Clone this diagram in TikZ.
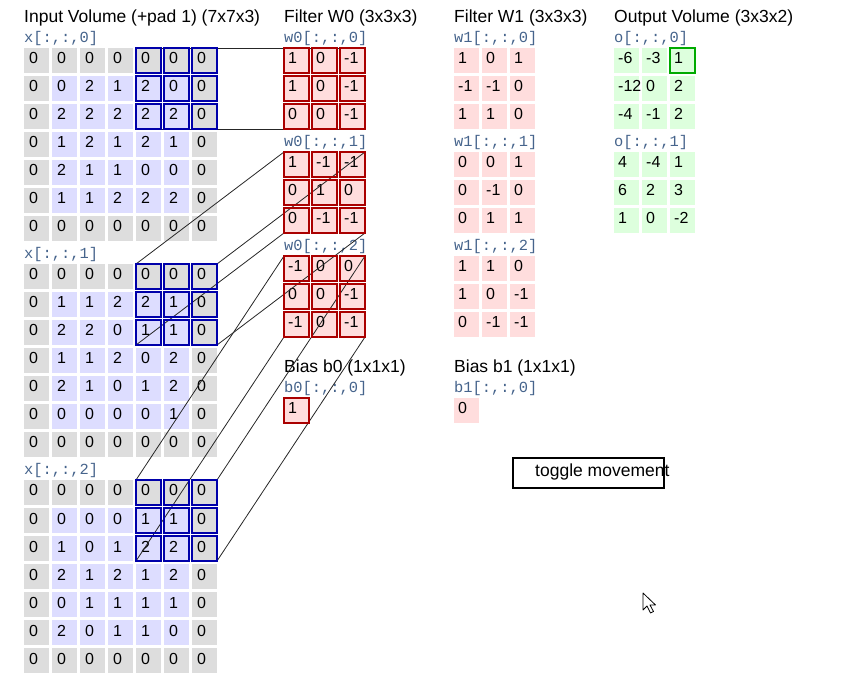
\documentclass[tikz,border=0pt]{standalone}
\usepackage{fontspec}
\setmainfont{Liberation Sans}
\setmonofont{Liberation Mono}
\definecolor{grau}{RGB}{221,221,221}
\definecolor{blau}{RGB}{221,221,255}
\definecolor{rot}{RGB}{255,221,221}
\definecolor{gruen}{RGB}{221,255,221}
\definecolor{blaurand}{RGB}{0,0,170}
\definecolor{rotrand}{RGB}{170,0,0}
\definecolor{gruenrand}{RGB}{0,170,0}
\definecolor{markenfarbe}{RGB}{70,100,140}
\tikzset{
    zahl/.style={anchor=base west, inner sep=0pt, font=\fontsize{16}{19}\selectfont},
    titel/.style={anchor=base west, inner sep=0pt, font=\fontsize{17.5}{20}\selectfont},
    marke/.style={anchor=base west, inner sep=0pt, text=markenfarbe, font=\fontsize{15.4}{18}\selectfont\ttfamily},
    rahmen/.style={line width=2pt},
    strahl/.style={line width=0.8pt, black!85}
}

\begin{document}
\begin{tikzpicture}[x=1pt,y=-1pt]
            \useasboundingbox (0,0) rectangle (841,684);
            % Ueberschriften
            \node[titel] (tin) at (24,23) {Input Volume (+pad 1) (7x7x3)};
            \node[titel] (tw0) at (284,23) {Filter W0 (3x3x3)};
            \node[titel] (tw1) at (454,23) {Filter W1 (3x3x3)};
            \node[titel] (tout) at (614,23) {Output Volume (3x3x2)};
            \node[titel] (tb0) at (284,373) {Bias b0 (1x1x1)};
            \node[titel] (tb1) at (454,373) {Bias b1 (1x1x1)};
            % Eingabe (3 Schichten zu je 7 Zeilen)
            \foreach \k in {0,1,2}
                \node[marke] (lx\k) at (24,43+216*\k) {x[:,:,\k]};
            \foreach \zeile [count=\n from 0] in {
                {0,0,0,0,0,0,0},{0,0,2,1,2,0,0},{0,2,2,2,2,2,0},{0,1,2,1,2,1,0},{0,2,1,1,0,0,0},{0,1,1,2,2,2,0},{0,0,0,0,0,0,0},
                {0,0,0,0,0,0,0},{0,1,1,2,2,1,0},{0,2,2,0,1,1,0},{0,1,1,2,0,2,0},{0,2,1,0,1,2,0},{0,0,0,0,0,1,0},{0,0,0,0,0,0,0},
                {0,0,0,0,0,0,0},{0,0,0,0,1,1,0},{0,1,0,1,2,2,0},{0,2,1,2,1,2,0},{0,0,1,1,1,1,0},{0,2,0,1,1,0,0},{0,0,0,0,0,0,0}}
                \foreach \w [count=\j from 0] in \zeile {
                    \pgfmathtruncatemacro\k{int(\n/7)}
                    \pgfmathtruncatemacro\i{mod(\n,7)}
                    \pgfmathtruncatemacro\rand{(\i==0)||(\i==6)||(\j==0)||(\j==6)}
                    \ifnum\rand=1 \def\farbe{grau}\else\def\farbe{blau}\fi
                    \fill[\farbe] (24+28*\j,48+216*\k+28*\i) rectangle ++(25,25);
                    \node[zahl] (x\k-\i-\j) at (29+28*\j,64+216*\k+28*\i) {\w};
                }
            % Filter W0
            \foreach \k in {0,1,2}
                \node[marke] (lw0\k) at (284,43+104*\k) {w0[:,:,\k]};
            \foreach \zeile [count=\n from 0] in {{1,0,-1},{1,0,-1},{0,0,-1},{1,-1,-1},{0,1,0},{0,-1,-1},{-1,0,0},{0,0,-1},{-1,0,-1}}
                \foreach \w [count=\j from 0] in \zeile {
                    \pgfmathtruncatemacro\k{int(\n/3)}
                    \pgfmathtruncatemacro\i{mod(\n,3)}
                    \fill[rot] (284+28*\j,48+104*\k+28*\i) rectangle ++(25,25);
                    \node[zahl] (w0\k-\i-\j) at (288+28*\j,64+104*\k+28*\i) {\w};
                }
            % Filter W1
            \foreach \k in {0,1,2}
                \node[marke] (lw1\k) at (454,43+104*\k) {w1[:,:,\k]};
            \foreach \zeile [count=\n from 0] in {{1,0,1},{-1,-1,0},{1,1,0},{0,0,1},{0,-1,0},{0,1,1},{1,1,0},{1,0,-1},{0,-1,-1}}
                \foreach \w [count=\j from 0] in \zeile {
                    \pgfmathtruncatemacro\k{int(\n/3)}
                    \pgfmathtruncatemacro\i{mod(\n,3)}
                    \fill[rot] (454+28*\j,48+104*\k+28*\i) rectangle ++(25,25);
                    \node[zahl] (w1\k-\i-\j) at (458+28*\j,64+104*\k+28*\i) {\w};
                }
            % Ausgabe
            \foreach \k in {0,1}
                \node[marke] (lo\k) at (614,43+104*\k) {o[:,:,\k]};
            \foreach \zeile [count=\n from 0] in {{-6,-3,1},{-12,0,2},{-4,-1,2},{4,-4,1},{6,2,3},{1,0,-2}}
                \foreach \w [count=\j from 0] in \zeile {
                    \pgfmathtruncatemacro\k{int(\n/3)}
                    \pgfmathtruncatemacro\i{mod(\n,3)}
                    \fill[gruen] (614+28*\j,48+104*\k+28*\i) rectangle ++(25,25);
                    \node[zahl] (o\k-\i-\j) at (618+28*\j,64+104*\k+28*\i) {\w};
                }
            % Bias
            \node[marke] (lb0) at (284,393) {b0[:,:,0]};
            \node[marke] (lb1) at (454,393) {b1[:,:,0]};
            \fill[rot] (284,398) rectangle ++(25,25);
            \fill[rot] (454,398) rectangle ++(25,25);
            \node[zahl] (b0) at (288,414) {1};
            \node[zahl] (b1) at (458,414) {0};
            % Ecken von Fenster und Filter
            \foreach \k in {0,1,2} {
                \coordinate (f\k-tl) at (136,48+216*\k);
                \coordinate (f\k-tr) at (217,48+216*\k);
                \coordinate (f\k-bl) at (136,129+216*\k);
                \coordinate (f\k-br) at (217,129+216*\k);
                \coordinate (g\k-tl) at (284,48+104*\k);
                \coordinate (g\k-tr) at (365,48+104*\k);
                \coordinate (g\k-bl) at (284,129+104*\k);
                \coordinate (g\k-br) at (365,129+104*\k);
            }
            % Verbindungslinien
            \foreach \k in {0,1,2}
                \foreach \e in {tl,tr,bl,br}
                    \draw[strahl] (f\k-\e) -- (g\k-\e);
            % Markierungen
            \foreach \k in {0,1,2}
                \foreach \i in {0,1,2}
                    \foreach \j in {4,5,6}
                        \draw[rahmen,blaurand] (24+28*\j,48+216*\k+28*\i) rectangle ++(25,25);
            \foreach \k in {0,1,2}
                \foreach \i in {0,1,2}
                    \foreach \j in {0,1,2}
                        \draw[rahmen,rotrand] (284+28*\j,48+104*\k+28*\i) rectangle ++(25,25);
            \draw[rahmen,rotrand] (284,398) rectangle ++(25,25);
            \draw[rahmen,gruenrand] (670,48) rectangle ++(25,25);
            % Knopf
            \draw[rahmen] (513,458) rectangle (664,488);
            \node[titel] (knopf) at (535,477) {toggle movement};
            % Zeiger
            \draw[fill=white, line width=0.8pt, line join=round] (643,593) -- ++(0,17) -- ++(4,-4) -- ++(3.5,7) -- ++(3,-1.5) -- ++(-3.5,-6.5) -- ++(5.5,0) -- cycle;
        \end{tikzpicture}
\end{document}
